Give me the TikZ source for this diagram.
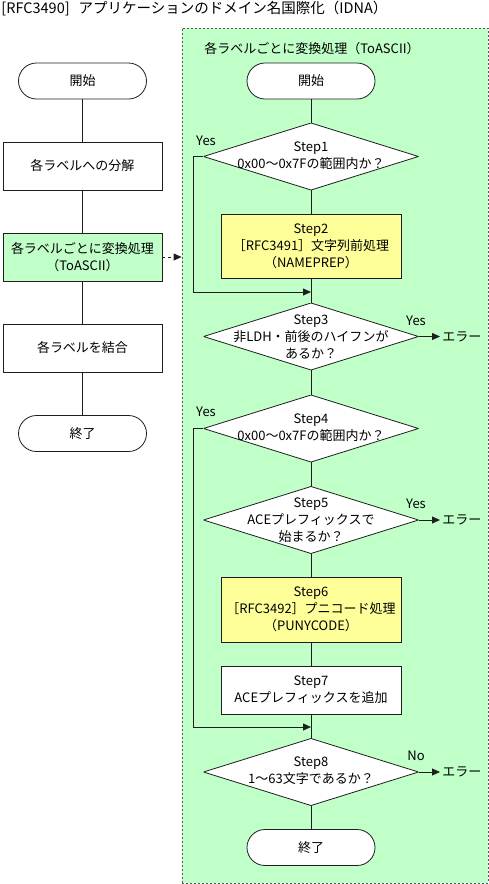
\documentclass[tikz,border=0pt]{standalone}
\usepackage{fontspec}
\setmainfont{Noto Sans CJK JP}
\usetikzlibrary{arrows.meta}
\definecolor{rgreen}{RGB}{192,255,200}
\definecolor{ryellow}{RGB}{255,255,153}
\definecolor{lc}{RGB}{30,30,30}
\newcommand{\dlines}[1]{\raisebox{5pt}{\begin{tabular}{@{}c@{}}#1\end{tabular}}}
\begin{document}
\begin{tikzpicture}[x=1pt,y=-1pt,
  font=\fontsize{13}{17}\selectfont,
  line width=0.8pt,
  every node/.style={text=black},
  term/.style={draw=lc, fill=white, rectangle, rounded corners=18pt, minimum width=128pt, minimum height=36pt, inner sep=0},
  lbox/.style={draw=lc, fill=white, rectangle, minimum width=159pt, minimum height=48pt, inner sep=0, align=center},
  proc/.style={draw=lc, fill=white, rectangle, minimum width=180pt, inner sep=0, align=center},
  ybox/.style={proc, fill=ryellow},
  dia/.style={rectangle, minimum width=215pt, minimum height=67pt, inner sep=0, align=center,
    path picture={\filldraw[draw=lc, fill=white, line width=0.8pt]
      (path picture bounding box.west) -- (path picture bounding box.north) --
      (path picture bounding box.east) -- (path picture bounding box.south) -- cycle;}},
  region/.style={draw=gray!70!black, dash pattern=on 2pt off 2pt, fill=rgreen, rectangle, inner sep=0},
  conn/.style={draw=lc, line width=0.8pt},
  arr/.style={conn, -{Triangle[length=8pt,width=7pt]}},
  lab/.style={inner sep=1pt},
  err/.style={anchor=west, inner sep=2pt}
]
\useasboundingbox (0,0) rectangle (489,884);

% title
\node[anchor=west, inner sep=0, font=\fontsize{14.5}{17}\selectfont] (title) at (1,9) {[RFC3490]\hspace{9pt}アプリケーションのドメイン名国際化（IDNA）};

% group region
\node[region, minimum width=306pt, minimum height=855pt] (grp) at (335,455.5) {};
\node[inner sep=0] (grptitle) at (312,49) {各ラベルごとに変換処理（ToASCII）};

% left column
\node[term] (lstart) at (82.5,81) {開始};
\node[lbox] (l1) at (82.5,166) {各ラベルへの分解};
\node[lbox, fill=rgreen] (l2) at (82.5,257) {各ラベルごとに変換処理\\（ToASCII）};
\node[lbox] (l3) at (82.5,348) {各ラベルを結合};
\node[term] (lend) at (82.5,433.5) {終了};

\draw[conn] (lstart) -- (l1);
\draw[conn] (l1) -- (l2);
\draw[conn] (l2) -- (l3);
\draw[conn] (l3) -- (lend);
\draw[arr, dashed] (l2.east) -- (l2.east -| grp.west);

% right column
\node[term] (rstart) at (311,81) {開始};
\node[dia] (s1) at (311,156.5) {\dlines{Step1\\0x00〜0x7Fの範囲内か？}};
\node[ybox, minimum height=64pt] (s2) at (311,246) {Step2\\［RFC3491］文字列前処理\\（NAMEPREP）};
\coordinate (m1) at (311,292);
\node[dia] (s3) at (311,336.5) {Step3\\非LDH・前後のハイフンが\\あるか？};
\node[dia] (s4) at (311,428.5) {\dlines{Step4\\0x00〜0x7Fの範囲内か？}};
\node[dia] (s5) at (311,520) {Step5\\ACEプレフィックスで\\始まるか？};
\node[ybox, minimum height=65pt] (s6) at (311,609.5) {Step6\\［RFC3492］プニコード処理\\（PUNYCODE）};
\node[proc, minimum height=48pt] (s7) at (311,690) {Step7\\ACEプレフィックスを追加};
\coordinate (m2) at (311,727);
\node[dia] (s8) at (311,772) {\dlines{Step8\\1〜63文字であるか？}};
\node[term] (rend) at (311,847.5) {終了};

\coordinate (b1) at (193,156.5);
\coordinate (b2) at (193,292);
\coordinate (b3) at (193,428.5);
\coordinate (b4) at (193,727);

\draw[conn] (rstart) -- (s1);
\draw[conn] (s1) -- (s2);
\draw[conn] (s2) -- (s3);
\draw[conn] (s3) -- (s4);
\draw[conn] (s4) -- (s5);
\draw[conn] (s5) -- (s6);
\draw[conn] (s6) -- (s7);
\draw[conn] (s7) -- (s8);
\draw[conn] (s8) -- (rend);
\draw[arr] (s1.west) -- (b1) -- (b2) -- (m1);
\draw[arr] (s4.west) -- (b3) -- (b4) -- (m2);

\node[err] (e1) at (440,336.5) {エラー};
\node[err] (e2) at (440,520) {エラー};
\node[err] (e3) at (440,772) {エラー};
\draw[arr] (s3.east) -- (e1.west);
\draw[arr] (s5.east) -- (e2.west);
\draw[arr] (s8.east) -- (e3.west);

\node[lab] (y1) at (206,141) {Yes};
\node[lab] (y3) at (416,321) {Yes};
\node[lab] (y4) at (206,412) {Yes};
\node[lab] (y5) at (416,504) {Yes};
\node[lab] (n8) at (416,756) {No};
\end{tikzpicture}
\end{document}
